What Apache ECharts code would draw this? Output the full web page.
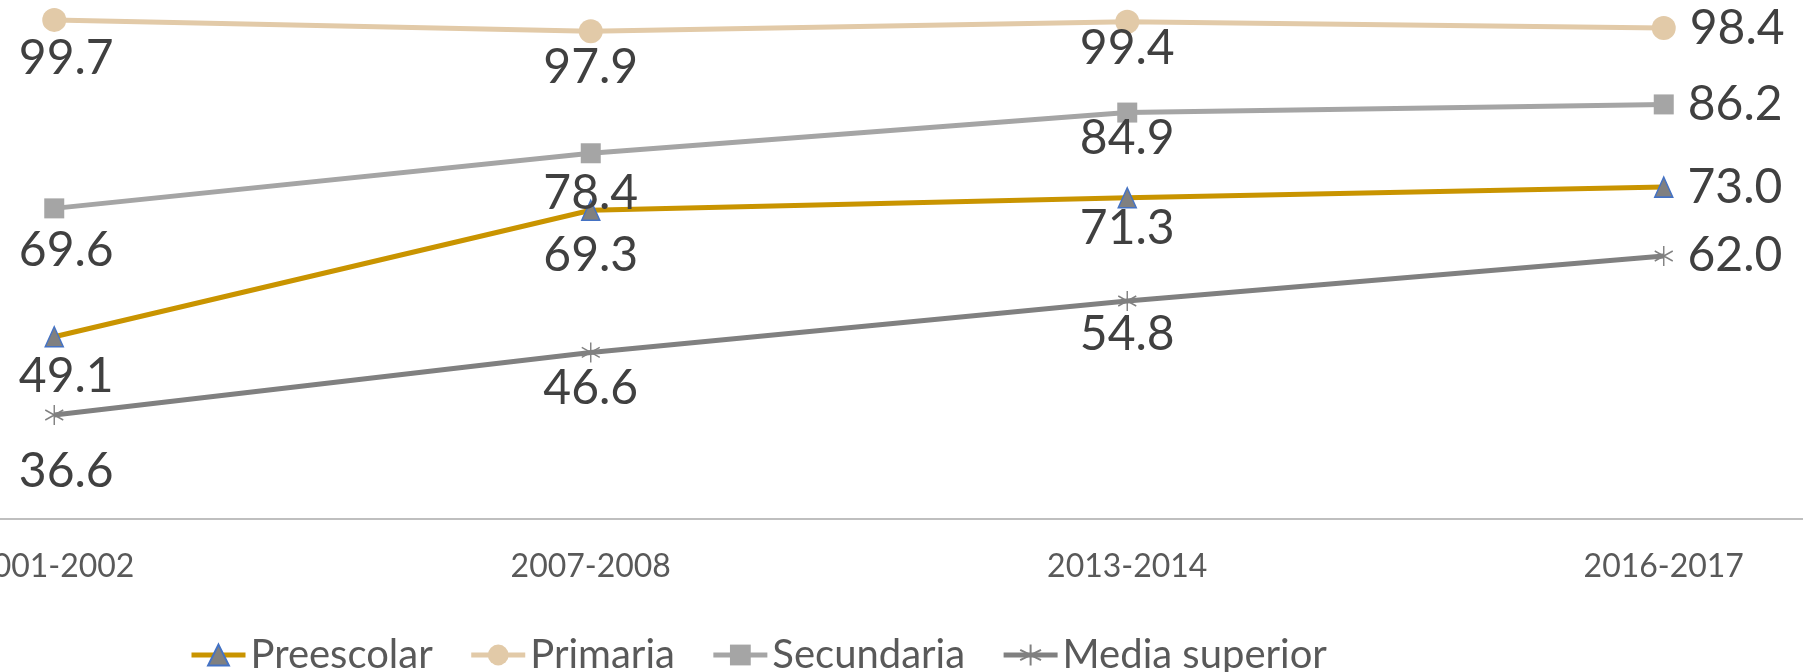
<!DOCTYPE html>
<html>
<head>
<meta charset="utf-8">
<script src="https://cdn.jsdelivr.net/npm/echarts@6/dist/echarts.min.js"></script>
<style>
  html, body { margin: 0; padding: 0; background: #fff; }
  #chart { width: 1803px; height: 672px; }
</style>
</head>
<body>
<div id="chart"></div>
<script>
// data
const periods = ["2001-2002", "2007-2008", "2013-2014", "2016-2017"];
const preescolar = [49.1, 69.3, 71.3, 73.0];
const primaria = [99.7, 97.9, 99.4, 98.4];
const secundaria = [69.6, 78.4, 84.9, 86.2];
const mediaSuperior = [36.6, 46.6, 54.8, 62.0];

const labelFont = "Lato";
const lastIdx = periods.length - 1;

// label below the point (with a small per-point nudge), last one to the right
const withLabels = (values, nudge) =>
  values.map((v, i) => {
    if (i === lastIdx) {
      return { value: v, label: { position: "right", distance: 14 } };
    }
    const d = nudge[i] || 0;
    return {
      value: v,
      label: {
        position: "bottom",
        distance: Math.max(0, 6 + d),
        offset: [i === 0 ? 12 : 0, d < -6 ? d + 6 : 0],
      },
    };
  });

const baseLabel = {
  show: true,
  fontFamily: labelFont,
  fontSize: 48,
  color: "#404040",
  formatter: (p) => p.value.toFixed(1),
};

const chart = echarts.init(document.getElementById("chart"));
const option = {
  animation: false,
  backgroundColor: "#ffffff",
  grid: {
    left: -214,
    right: -129,
    top: 18,
    bottom: 153,
    containLabel: false,
    outerBoundsMode: "none",
  },
  legend: {
    left: 184,
    top: 630,
    itemWidth: 54,
    itemHeight: 26,
    itemGap: 36,
    lineStyle: { width: 5 },
    textStyle: { fontFamily: labelFont, fontSize: 40, color: "#595959" },
    data: ["Preescolar", "Primaria", "Secundaria", "Media superior"],
  },
  xAxis: {
    type: "category",
    data: periods,
    boundaryGap: true,
    axisTick: { show: false },
    axisLine: { lineStyle: { color: "#BFBFBF", width: 2 } },
    axisLabel: {
      interval: 0,
      margin: 32,
      fontFamily: labelFont,
      fontSize: 32,
      color: "#595959",
    },
  },
  yAxis: {
    type: "value",
    min: 20,
    max: 100,
    show: false,
    splitLine: { show: false },
  },
  series: [
    {
      name: "Preescolar",
      type: "line",
      data: withLabels(preescolar, [-1, 4, -10]),
      symbol: "triangle",
      symbolSize: [18, 20],
      lineStyle: { color: "#C99400", width: 5 },
      itemStyle: { color: "#808080", borderColor: "#4472C4", borderWidth: 1.5 },
      label: baseLabel,
      z: 2,
    },
    {
      name: "Primaria",
      type: "line",
      data: withLabels(primaria, [-3, -6, -15]),
      symbol: "circle",
      symbolSize: 24,
      lineStyle: { color: "#E2CAA8", width: 5 },
      itemStyle: { color: "#E2CAA8", borderWidth: 0 },
      label: baseLabel,
      z: 3,
    },
    {
      name: "Secundaria",
      type: "line",
      data: withLabels(secundaria, [2, 0, -14]),
      symbol: "rect",
      symbolSize: 20,
      lineStyle: { color: "#A5A5A5", width: 5 },
      itemStyle: { color: "#A5A5A5", borderWidth: 0 },
      label: baseLabel,
      z: 4,
    },
    {
      name: "Media superior",
      type: "line",
      data: withLabels(mediaSuperior, [16, -5, -7]),
      symbol: "path://M9,0 L9,20 M1,5 L17,15 M17,5 L1,15",
      symbolSize: [18, 20],
      lineStyle: { color: "#808080", width: 5 },
      itemStyle: { color: "rgba(0,0,0,0)", borderColor: "#808080", borderWidth: 1.5 },
      label: baseLabel,
      z: 5,
    },
  ],
};
chart.setOption(option);
</script>
</body>
</html>
